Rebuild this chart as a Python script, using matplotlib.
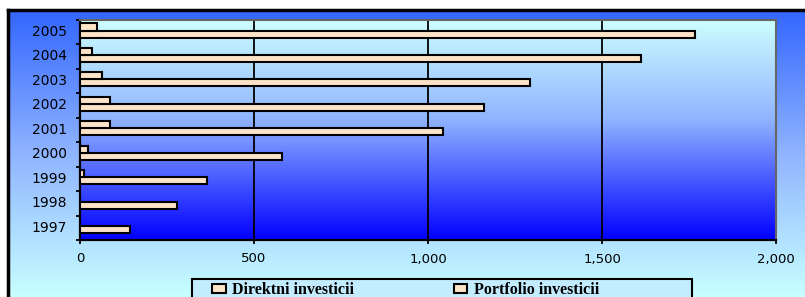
import matplotlib.pyplot as plt
import numpy as np
from matplotlib.colors import LinearSegmentedColormap
from matplotlib.patches import Rectangle

# data
years = ['1997', '1998', '1999', '2000', '2001', '2002', '2003', '2004', '2005']
direktni = [144, 278, 364, 581, 1042, 1162, 1294, 1611, 1766]
portfolio = [0, 0, 12, 24, 87, 87, 64, 35, 48]

W, H = 805, 297
fig = plt.figure(figsize=(W / 100, H / 100), dpi=100)
fig.patch.set_facecolor('white')

# outer chart area with a blue-to-cyan gradient
bg = fig.add_axes([8 / W, 0, 1 - 8 / W, 1 - 10 / H])
outer_cmap = LinearSegmentedColormap.from_list(
    'outer', [(0.0, '#3366ff'), (0.5, '#8fb4ff'), (1.0, '#c8ffff')])
bg.imshow(np.linspace(0, 1, 256).reshape(-1, 1), cmap=outer_cmap,
          aspect='auto', extent=[0, 1, 0, 1], origin='upper')
bg.set_xticks([])
bg.set_yticks([])
for side in ['top', 'left']:
    bg.spines[side].set_linewidth(2.5)
    bg.spines[side].set_color('black')
for side in ['right', 'bottom']:
    bg.spines[side].set_visible(False)

# plot area
ax = fig.add_axes([80 / W, (H - 240) / H, (776 - 80) / W, (240 - 20) / H])
inner_cmap = LinearSegmentedColormap.from_list(
    'inner', [(0.0, '#ccffff'), (0.45, '#90b4ff'), (1.0, '#0000ff')])
ax.imshow(np.linspace(0, 1, 256).reshape(-1, 1), cmap=inner_cmap,
          aspect='auto', extent=[0, 1, 0, 1], origin='upper',
          transform=ax.transAxes, zorder=0)

y = np.arange(len(years)) + 0.07
h = 0.29
bar_color = '#fde4c8'
ax.barh(y - h / 2, direktni, h, color=bar_color, edgecolor='black',
        linewidth=1.5, label='Direktni investicii', zorder=3)
ax.barh(y + h / 2, portfolio, h, color=bar_color, edgecolor='black',
        linewidth=1.5, label='Portfolio investicii', zorder=3)

ax.set_xlim(0, 2000)
ax.set_ylim(-0.5, len(years) - 0.5)
ax.set_xticks([0, 500, 1000, 1500, 2000])
ax.set_xticklabels(['0', '500', '1,000', '1,500', '2,000'])
ax.set_yticks(y)
ax.set_yticklabels(years)
ax.set_yticks(np.arange(len(years) + 1) - 0.5, minor=True)
ax.tick_params(axis='y', which='major', length=0, pad=9.5, labelsize=10)
ax.tick_params(axis='y', which='minor', length=3, width=1.3, direction='out')
ax.tick_params(axis='x', length=3, width=1.3, pad=6, labelsize=9.5)
for v in [500, 1000, 1500]:
    ax.axvline(v, color='black', linewidth=1.3, zorder=2)

ax.spines['left'].set_linewidth(1.6)
ax.spines['bottom'].set_linewidth(1.6)
for side in ['top', 'right']:
    ax.spines[side].set_color('#666666')
    ax.spines[side].set_linewidth(1.5)

# legend box (runs off the bottom edge as in the original)
box = Rectangle((192 / W, -0.1), 500 / W, (H - 279) / H + 0.1,
                transform=fig.transFigure, facecolor='#c4ecff',
                edgecolor='black', linewidth=1.5, zorder=1)
fig.add_artist(box)

handles, labels = ax.get_legend_handles_labels()
leg = fig.legend(handles, labels, ncol=2, loc='upper left',
                 bbox_to_anchor=(212 / W, (H - 282.5) / H),
                 borderaxespad=0, borderpad=0, frameon=False,
                 handlelength=0.85, handleheight=0.5, handletextpad=0.4,
                 columnspacing=6.25,
                 prop={'family': 'Liberation Serif', 'weight': 'bold', 'size': 11.5})
leg.set_zorder(5)

fig.savefig('out.png', dpi=100)
